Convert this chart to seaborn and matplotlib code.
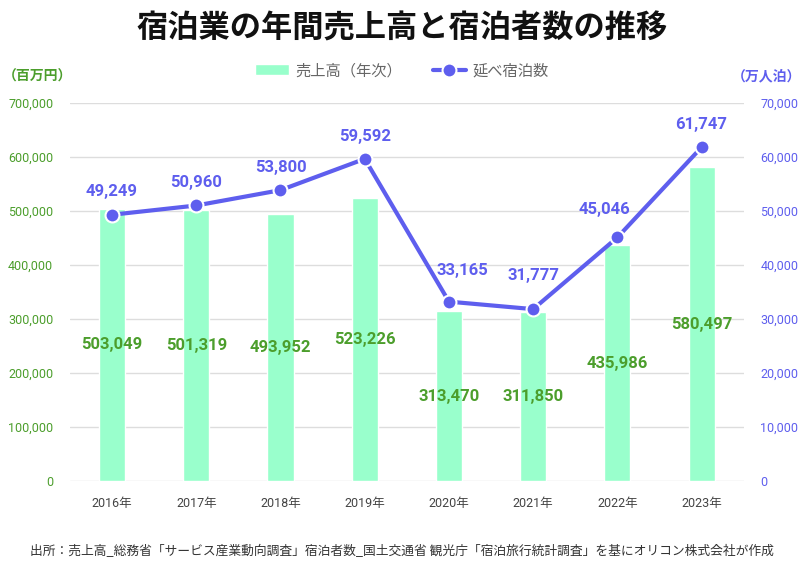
import matplotlib
matplotlib.use('Agg')
import matplotlib.pyplot as plt
import seaborn as sns
import pandas as pd
from matplotlib.ticker import FuncFormatter

# --- dados ---
anos = ['2016年', '2017年', '2018年', '2019年', '2020年', '2021年', '2022年', '2023年']
vendas = [503049, 501319, 493952, 523226, 313470, 311850, 435986, 580497]   # 百万円
hospedes = [49249, 50960, 53800, 59592, 33165, 31777, 45046, 61747]        # 万人泊

df = pd.DataFrame({'ano': anos, 'vendas': vendas, 'hospedes': hospedes})

BAR = '#99FFCC'
LINE = '#5E5EEE'
GREEN = '#4C9E2C'
# deslocamento (pt) dos rótulos da linha
desloc_x = [0, 0, 0, 0, 10, 0, -9.5, 0]
desloc_y = [16.5, 16.5, 16, 16, 22.5, 24.5, 20, 16]

sns.set_theme(style='white')
plt.rcParams['font.family'] = ['Roboto', 'Noto Sans CJK JP', 'DejaVu Sans']

fig = plt.figure(figsize=(8.04, 5.67), dpi=100)
ax = fig.add_axes([0.087, 0.152, 0.838, 0.667])

sns.barplot(data=df, x='ano', y='vendas', color=BAR, width=0.31, ax=ax,
            saturation=1, label='売上高（年次）')
ax.set_ylim(0, 700000)
ax.set_xlim(-0.5, 7.5)
ax.set_yticks(range(0, 700001, 100000))
ax.yaxis.set_major_formatter(FuncFormatter(lambda v, p: f'{int(v):,}'))
ax.grid(axis='y', color='#DDDDDD', linewidth=1)
ax.set_axisbelow(True)
for s in ax.spines.values():
    s.set_visible(False)
ax.tick_params(axis='y', colors=GREEN, labelsize=9, length=0, pad=12)
ax.tick_params(axis='x', colors='#444444', labelsize=9, length=0, pad=12)
ax.set_xlabel('')
ax.set_ylabel('')

for i, v in enumerate(vendas):
    ax.text(i, v / 2, f'{v:,}', ha='center', va='center', color=GREEN,
            fontsize=12, fontweight='bold')

ax2 = ax.twinx()
sns.lineplot(x=list(range(len(anos))), y=hospedes, ax=ax2, color=LINE, linewidth=3,
             marker='o', markersize=10, markeredgecolor='white', markeredgewidth=1.5,
             label='延べ宿泊数')
ax2.set_ylim(0, 70000)
ax2.set_yticks(range(0, 70001, 10000))
ax2.yaxis.set_major_formatter(FuncFormatter(lambda v, p: f'{int(v):,}'))
ax2.tick_params(axis='y', colors=LINE, labelsize=9, length=0, pad=12)
for s in ax2.spines.values():
    s.set_visible(False)
ax2.grid(False)
for i, v in enumerate(hospedes):
    ax2.annotate(f'{v:,}', (i, v), xytext=(desloc_x[i], desloc_y[i]),
                 textcoords='offset points', ha='center', va='center',
                 color=LINE, fontsize=12, fontweight='bold')

# legenda combinada
h1, l1 = ax.get_legend_handles_labels()
h2, l2 = ax2.get_legend_handles_labels()
if ax.get_legend():
    ax.get_legend().remove()
ax2.get_legend().remove()
fig.legend(h1 + h2, l1 + l2, loc='center', bbox_to_anchor=(0.5, 0.875), ncol=2,
           frameon=False, fontsize=11, labelcolor='#666666', handlelength=2.2,
           columnspacing=2.0, handletextpad=0.4)

fig.text(0.5, 0.95, '宿泊業の年間売上高と宿泊者数の推移', ha='center', va='center',
         fontsize=22.5, fontweight='bold', color='#111111',
         family=['Noto Sans CJK JP', 'DejaVu Sans'])
fig.text(0.004, 0.865, '（百万円）', ha='left', va='center', fontsize=10,
         color=GREEN, fontweight='bold', family=['Noto Sans CJK JP', 'DejaVu Sans'])
fig.text(0.997, 0.865, '（万人泊）', ha='right', va='center', fontsize=10,
         color=LINE, fontweight='bold', family=['Noto Sans CJK JP', 'DejaVu Sans'])
fig.text(0.5, 0.028, '出所：売上高_総務省「サービス産業動向調査」宿泊者数_国土交通省 観光庁「宿泊旅行統計調査」を基にオリコン株式会社が作成',
         ha='center', va='center', fontsize=9.2, color='#333333',
         family=['Noto Sans CJK JP', 'DejaVu Sans'])

fig.savefig('out.png', dpi=100, facecolor='white')
